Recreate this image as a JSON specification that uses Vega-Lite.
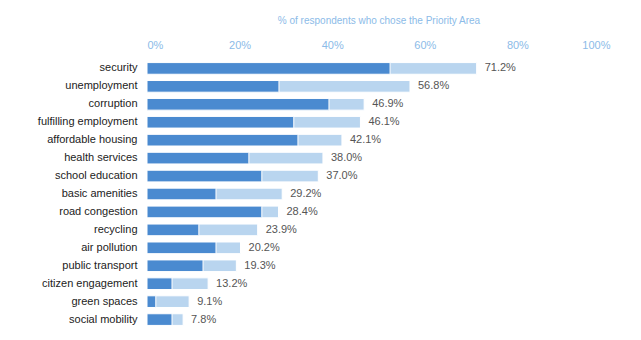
{
  "$schema": "https://vega.github.io/schema/vega-lite/v6.json",
  "autosize": {"type": "none"},
  "padding": {"left": 147, "top": 59, "right": 31, "bottom": 11},
  "width": 463,
  "height": 270,
  "background": "white",
  "config": {"view": {"stroke": null}, "font": "Liberation Sans"},
  "datasets": {
    "rows": [
      {"area": "security", "first": 0.525, "total": 0.712},
      {"area": "unemployment", "first": 0.285, "total": 0.568},
      {"area": "corruption", "first": 0.393, "total": 0.469},
      {"area": "fulfilling employment", "first": 0.317, "total": 0.461},
      {"area": "affordable housing", "first": 0.326, "total": 0.421},
      {"area": "health services", "first": 0.220, "total": 0.380},
      {"area": "school education", "first": 0.248, "total": 0.370},
      {"area": "basic amenities", "first": 0.149, "total": 0.292},
      {"area": "road congestion", "first": 0.248, "total": 0.284},
      {"area": "recycling", "first": 0.112, "total": 0.239},
      {"area": "air pollution", "first": 0.149, "total": 0.202},
      {"area": "public transport", "first": 0.121, "total": 0.193},
      {"area": "citizen engagement", "first": 0.054, "total": 0.132},
      {"area": "green spaces", "first": 0.019, "total": 0.091},
      {"area": "social mobility", "first": 0.054, "total": 0.078}
    ]
  },
  "data": {"name": "rows"},
  "encoding": {
    "y": {
      "field": "area", "type": "nominal", "sort": null,
      "scale": {"paddingInner": 0.35, "paddingOuter": 0.2},
      "axis": {"title": null, "domain": false, "ticks": false, "labelPadding": 10, "labelFontSize": 11, "labelColor": "#222222"}
    }
  },
  "layer": [
    {
      "mark": {"type": "bar", "color": "#b9d5ef", "stroke": "white", "strokeWidth": 1},
      "encoding": {
        "x": {
          "field": "total", "type": "quantitative",
          "scale": {"domain": [0, 1], "nice": false},
          "axis": {
            "orient": "top", "values": [0, 0.2, 0.4, 0.6, 0.8, 1],
            "format": ".0%",
            "title": "% of respondents who chose the Priority Area",
            "titleColor": "#8cbbe8", "titleFontWeight": "normal", "titleFontSize": 10, "titlePadding": 14,
            "labelColor": "#8cbbe8", "labelFontSize": 11, "labelPadding": 9,
            "grid": false, "domain": false, "ticks": false
          }
        }
      }
    },
    {
      "mark": {"type": "bar", "color": "#4a8ad0", "stroke": "white", "strokeWidth": 1},
      "encoding": {"x": {"field": "first", "type": "quantitative"}}
    },
    {
      "mark": {"type": "text", "align": "left", "dx": 8, "fontSize": 11, "color": "#555555"},
      "encoding": {
        "x": {"field": "total", "type": "quantitative"},
        "text": {"field": "total", "type": "quantitative", "format": ".1%"}
      }
    }
  ]
}
